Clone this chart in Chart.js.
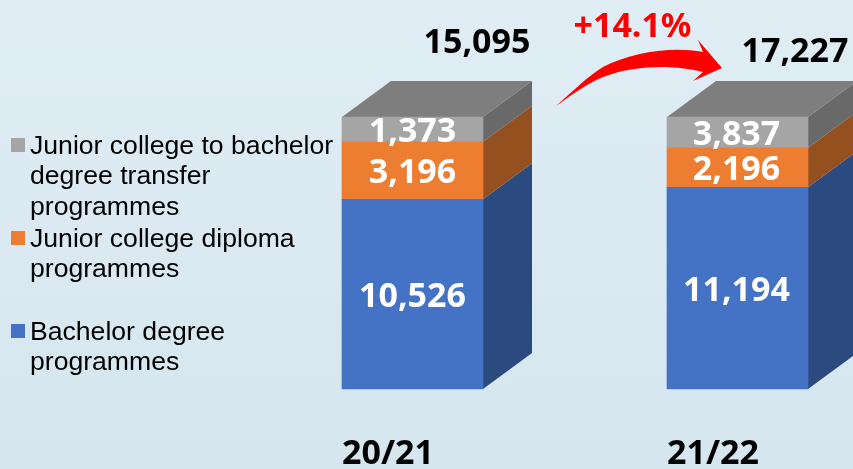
<!DOCTYPE html>
<html>
<head>
<meta charset="utf-8">
<title>Programme enrolment</title>
<script src="https://cdn.jsdelivr.net/npm/chart.js@4"></script>
<style>
    html, body { margin: 0; padding: 0; width: 853px; height: 469px; overflow: hidden; }
    body { background: linear-gradient(180deg, #e0edf5 0%, #d5e6ef 100%); }
    canvas { display: block; }
</style>
</head>
<body>
<canvas id="chart" width="853" height="469"></canvas>
<script>
const years = ['20/21', '21/22'];
const bachelor = [10526, 11194];
const diploma = [3196, 2196];
const transfer = [1373, 1705];

const bachelorLabels = ['10,526', '11,194'];
const diplomaLabels = ['3,196', '2,196'];
const transferLabels = ['1,373', '3,837'];
const totals = ['15,095', '17,227'];
const growth = '+14.1%';

const transferLegend = ['Junior college to bachelor', 'degree transfer', 'programmes'];
const diplomaLegend = ['Junior college diploma', 'programmes'];
const bachelorLegend = ['Bachelor degree', 'programmes'];

const BOLD = 'bold 34px "Noto Sans"';
const DEPTH_X = 49;
const DEPTH_Y = 36;

function poly(ctx, points, color) {
    ctx.fillStyle = color;
    ctx.beginPath();
    points.forEach((p, i) => i ? ctx.lineTo(p[0], p[1]) : ctx.moveTo(p[0], p[1]));
    ctx.closePath();
    ctx.fill();
}

// side and top faces of the boxes, taken from the bar elements
const boxFaces = {
    id: 'boxFaces',
    beforeDatasetsDraw(chart) {
        const ctx = chart.ctx;
        chart.data.datasets.forEach((ds, d) => {
            chart.getDatasetMeta(d).data.forEach(bar => {
                const right = bar.x + bar.width / 2;
                const left = bar.x - bar.width / 2;
                poly(ctx, [[right, bar.y], [right + DEPTH_X, bar.y - DEPTH_Y],
                    [right + DEPTH_X, bar.base - DEPTH_Y], [right, bar.base]], ds.sideColor);
                if (d === chart.data.datasets.length - 1) {
                    poly(ctx, [[left, bar.y], [left + DEPTH_X, bar.y - DEPTH_Y],
                        [right + DEPTH_X, bar.y - DEPTH_Y], [right, bar.y]], '#7e7e7e');
                }
            });
        });
    }
};

const annotations = {
    id: 'annotations',
    afterDatasetsDraw(chart) {
        const ctx = chart.ctx;
        ctx.save();
        ctx.textBaseline = 'middle';

        // value labels inside the blocks
        ctx.textAlign = 'center';
        ctx.font = BOLD;
        ctx.fillStyle = '#ffffff';
        chart.data.datasets.forEach((ds, d) => {
            chart.getDatasetMeta(d).data.forEach((bar, i) => {
                ctx.fillText(ds.valueLabels[i], bar.x - i, (bar.y + bar.base) / 2 + 3);
            });
        });

        // totals above the boxes
        const bars = chart.getDatasetMeta(2).data;
        ctx.fillStyle = '#000000';
        ctx.fillText(totals[0], bars[0].x + 64.5, 43);
        ctx.fillText(totals[1], bars[1].x + 57.5, 52);

        // growth label and arrow
        ctx.fillStyle = '#ff0000';
        ctx.fillText(growth, 632.5, 27);
        ctx.beginPath();
        ctx.moveTo(556, 106);
        ctx.bezierCurveTo(572, 92, 588, 76, 603, 67);
        ctx.bezierCurveTo(632, 52, 672, 46, 703, 52);
        ctx.lineTo(698, 40);
        ctx.lineTo(722, 68);
        ctx.lineTo(693, 81);
        ctx.lineTo(703, 72);
        ctx.bezierCurveTo(680, 66, 640, 63, 603, 77);
        ctx.bezierCurveTo(586, 84, 572, 95, 556, 106);
        ctx.closePath();
        ctx.fill();

        // legend
        const legend = [
            { lines: transferLegend, color: '#a5a5a5', y: 145 },
            { lines: diplomaLegend, color: '#ed7d31', y: 238 },
            { lines: bachelorLegend, color: '#4472c4', y: 331 }
        ];
        ctx.textAlign = 'left';
        ctx.font = '26.6px "Liberation Sans"';
        legend.forEach(item => {
            ctx.fillStyle = item.color;
            ctx.fillRect(11, item.y - 7, 14, 14);
            ctx.fillStyle = '#000000';
            item.lines.forEach((line, i) => ctx.fillText(line, 30, item.y + 1.5 + i * 30.5));
        });
        ctx.restore();
    }
};

new Chart(document.getElementById('chart').getContext('2d'), {
    type: 'bar',
    data: {
        labels: years,
        datasets: [
            { label: 'Bachelor degree programmes', data: bachelor, valueLabels: bachelorLabels, backgroundColor: '#4472c4', sideColor: '#2b4a80' },
            { label: 'Junior college diploma programmes', data: diploma, valueLabels: diplomaLabels, backgroundColor: '#ed7d31', sideColor: '#95501f' },
            { label: 'Junior college to bachelor degree transfer programmes', data: transfer, valueLabels: transferLabels, backgroundColor: '#a5a5a5', sideColor: '#696969' }
        ].map(ds => ({ ...ds, barThickness: 141, clip: false }))
    },
    options: {
        responsive: false,
        animation: false,
        layout: { padding: { left: 412.5, right: 115.5, top: 65, bottom: 0 } },
        plugins: { legend: { display: false }, tooltip: { enabled: false } },
        scales: {
            x: {
                stacked: true,
                offset: false,
                border: { display: false },
                grid: { display: false, drawTicks: false },
                afterFit(scale) { scale.height = 80; },
                ticks: {
                    autoSkip: false,
                    maxRotation: 0,
                    padding: 45,
                    labelOffset: -24.5,
                    color: '#000000',
                    font: { family: 'Noto Sans', weight: 'bold', size: 34 }
                }
            },
            y: { stacked: true, display: false, min: 0, max: 17985 }
        }
    },
    plugins: [boxFaces, annotations]
});
</script>
</body>
</html>
